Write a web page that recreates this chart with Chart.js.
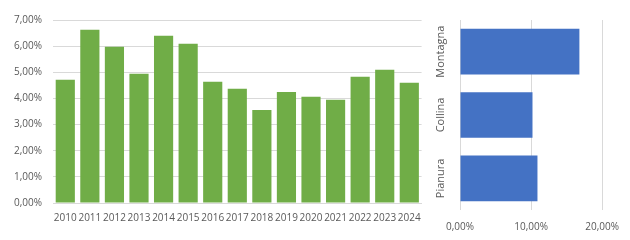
<!DOCTYPE html>
<html>
<head>
<meta charset="utf-8">
<script src="https://cdn.jsdelivr.net/npm/chart.js@4.4.1/dist/chart.umd.min.js"></script>
<style>
  html, body { margin: 0; padding: 0; background: #fff; }
  #wrap { position: relative; width: 630px; height: 240px; }
  #left  { position: absolute; left: 0;   top: 0; width: 430px; height: 240px; }
  #right { position: absolute; left: 425px; top: 0; width: 205px; height: 240px; }
</style>
</head>
<body>
<div id="wrap">
  <div id="left"><canvas id="chart-anni"></canvas></div>
  <div id="right"><canvas id="chart-zone"></canvas></div>
</div>
<script>
// anni e percentuali (grafico a colonne)
const anni = ['2010', '2011', '2012', '2013', '2014', '2015', '2016', '2017',
              '2018', '2019', '2020', '2021', '2022', '2023', '2024'];
const valoriAnni = [4.71, 6.63, 5.98, 4.94, 6.40, 6.09, 4.64, 4.37,
                    3.56, 4.25, 4.06, 3.95, 4.83, 5.10, 4.60];

// zone altimetriche (grafico a barre orizzontali)
const zone = ['Montagna', 'Collina', 'Pianura'];
const valoriZone = [16.8, 10.2, 10.9];

const FONT  = { family: 'Open Sans', size: 10 };
const GREY  = '#595959';
const GRID  = '#d9d9d9';
const pct   = v => v.toFixed(2).replace('.', ',') + '%';

Chart.defaults.animation = false;

// etichette verticali centrate sulle barre
const etichetteRuotate = {
  id: 'etichetteRuotate',
  afterDraw(chart) {
    const y   = chart.scales.y;
    const ctx = chart.ctx;
    ctx.save();
    ctx.font = `11px "${FONT.family}"`;
    ctx.fillStyle = GREY;
    ctx.textAlign = 'center';
    ctx.textBaseline = 'middle';
    chart.data.labels.forEach((lab, i) => {
      ctx.save();
      ctx.translate(y.right - 19, y.getPixelForTick(i));
      ctx.rotate(-Math.PI / 2);
      ctx.fillText(lab, 0, 0);
      ctx.restore();
    });
    ctx.restore();
  }
};

new Chart(document.querySelector('#chart-anni'), {
  type: 'bar',
  data: {
    labels: anni,
    datasets: [{
      data: valoriAnni,
      backgroundColor: '#70ad47',
      barPercentage: 0.78,
      categoryPercentage: 1
    }]
  },
  options: {
    responsive: true,
    maintainAspectRatio: false,
    layout: { padding: { top: 20, right: 8, bottom: 0, left: 0 } },
    plugins: { legend: { display: false }, tooltip: { enabled: false } },
    scales: {
      x: {
        grid: { display: false, drawTicks: false },
        border: { color: GRID },
        ticks: { color: GREY, font: FONT, padding: 9, maxRotation: 0, autoSkip: false },
        afterFit: s => { s.height = 37; }
      },
      y: {
        min: 0,
        max: 7,
        grid: { color: GRID, drawTicks: false },
        border: { display: false },
        ticks: { stepSize: 1, color: GREY, font: FONT, padding: 11, callback: v => pct(v) },
        afterFit: s => { s.width = 53; }
      }
    }
  }
});

new Chart(document.querySelector('#chart-zone'), {
  type: 'bar',
  data: {
    labels: zone,
    datasets: [{
      data: valoriZone,
      backgroundColor: '#4472c4',
      barPercentage: 0.72,
      categoryPercentage: 1
    }]
  },
  options: {
    indexAxis: 'y',
    responsive: true,
    maintainAspectRatio: false,
    layout: { padding: { top: 20, right: 27, bottom: 0, left: 0 } },
    plugins: { legend: { display: false }, tooltip: { enabled: false } },
    scales: {
      x: {
        min: 0,
        max: 20,
        grid: { color: GRID, drawTicks: false },
        border: { display: false },
        ticks: { stepSize: 10, color: GREY, font: FONT, padding: 11, maxRotation: 0, callback: v => pct(v) },
        afterFit: s => { s.height = 30; }
      },
      y: {
        grid: { display: false, drawTicks: false },
        border: { display: false },
        ticks: { display: false },
        afterFit: s => { s.width = 35; }
      }
    }
  },
  plugins: [etichetteRuotate]
});
</script>
</body>
</html>
